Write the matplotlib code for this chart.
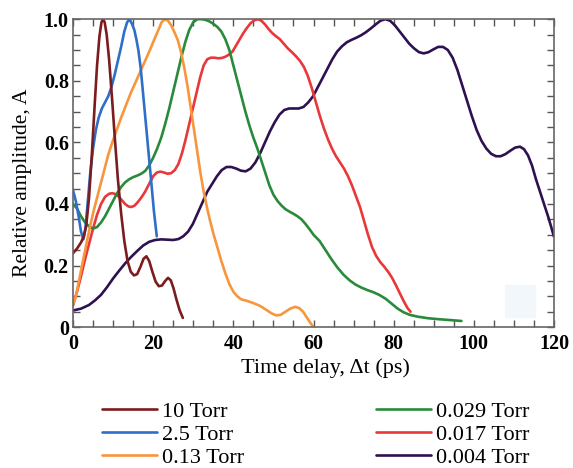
import matplotlib
matplotlib.use('Agg')
import matplotlib.pyplot as plt
from matplotlib.ticker import MultipleLocator, FuncFormatter
from matplotlib.patches import Rectangle

plt.rcParams['font.family'] = ['Liberation Serif', 'DejaVu Serif']

# 10 Torr
x_10 = [0, 1, 2, 2.7, 3.3, 4, 4.7, 5.4, 6, 6.6, 7.1, 7.5, 7.9, 8.4, 9, 9.7, 10.4, 11.2, 12,
        12.8, 13.6, 14.4, 15.2, 16, 16.8, 17.6, 18.3, 19, 19.8, 20.6, 21.4, 22.2, 23, 23.7,
        24.4, 25.1, 25.8, 26.6, 27.4]
y_10 = [0.24, 0.255, 0.275, 0.295, 0.33, 0.42, 0.56, 0.72, 0.85, 0.945, 0.99, 1.0, 0.99,
        0.95, 0.87, 0.75, 0.62, 0.48, 0.37, 0.28, 0.215, 0.18, 0.168, 0.172, 0.195, 0.222,
        0.23, 0.215, 0.18, 0.148, 0.133, 0.135, 0.15, 0.16, 0.152, 0.125, 0.09, 0.055, 0.03]

# 2.5 Torr
x_25 = [0, 0.7, 1.4, 2, 2.6, 3.1, 3.7, 4.3, 5, 5.7, 6.4, 7.2, 8, 8.8, 9.6, 10.4, 11.2, 12,
        12.8, 13.5, 14.1, 14.7, 15.3, 15.8, 16.3, 16.9, 17.4, 17.9, 18.4, 19, 19.6, 20.2, 20.9]
y_25 = [0.445, 0.41, 0.36, 0.31, 0.285, 0.32, 0.41, 0.5, 0.58, 0.64, 0.68, 0.71, 0.73, 0.75,
        0.78, 0.82, 0.865, 0.91, 0.96, 0.99, 1.0, 0.985, 0.965, 0.935, 0.9, 0.84, 0.77, 0.70,
        0.63, 0.545, 0.46, 0.375, 0.295]

# 0.13 Torr
x_013 = [0, 0.7, 1.4, 2.1, 2.8, 3.5, 4.3, 5.1, 5.9, 6.8, 7.8, 8.8, 9.8, 10.9, 12, 13.2, 14.4,
         15.6, 16.8, 18, 19.2, 20.3, 21.3, 22.1, 22.9, 23.7, 24.5, 25.4, 26.2, 27, 27.8, 28.6,
         29.4, 30.2, 31, 31.8, 32.6, 33.4, 34.2, 35.1, 36, 37, 38, 39, 40, 41, 42, 43.5, 45,
         46.5, 48, 49.5, 50.7, 51.8, 53, 54.2, 55.4, 56.4, 57.4, 58.4, 59.3, 60]
y_013 = [0.075, 0.1, 0.145, 0.19, 0.235, 0.28, 0.33, 0.375, 0.415, 0.46, 0.51, 0.56, 0.6,
         0.64, 0.68, 0.72, 0.76, 0.795, 0.83, 0.865, 0.9, 0.935, 0.965, 0.99, 1.0, 0.995, 0.98,
         0.955, 0.93, 0.89, 0.84, 0.78, 0.71, 0.64, 0.57, 0.5, 0.44, 0.39, 0.345, 0.3, 0.26,
         0.215, 0.175, 0.14, 0.115, 0.1, 0.09, 0.085, 0.078, 0.07, 0.058, 0.045, 0.038, 0.04,
         0.05, 0.06, 0.066, 0.062, 0.05, 0.03, 0.012, 0.0]

# 0.029 Torr
x_0029 = [0, 1, 2, 3, 4, 5, 6, 7, 8, 9, 10, 11, 12, 13, 14, 15, 16, 17, 18, 19, 20, 21, 22,
          23, 24, 25, 26, 27, 28, 29, 30, 31, 32, 33, 34, 35, 36, 37, 38, 39, 40, 41, 42, 43,
          44, 45, 46, 47, 48, 49, 50, 51, 52, 53, 54, 55, 56, 57, 58, 59, 60, 61.5, 63, 64.5,
          66, 67.5, 69, 70.5, 72, 73.5, 75, 76.5, 78, 79.5, 81, 82.5, 84, 86, 88.5, 91, 94, 96.9]
y_0029 = [0.40, 0.385, 0.36, 0.34, 0.327, 0.32, 0.325, 0.34, 0.36, 0.385, 0.41, 0.435, 0.455,
          0.47, 0.48, 0.487, 0.492, 0.498, 0.507, 0.525, 0.55, 0.58, 0.615, 0.66, 0.71, 0.765,
          0.82, 0.875, 0.925, 0.965, 0.99, 1.0, 1.0, 0.998, 0.993, 0.985, 0.975, 0.96, 0.935,
          0.9, 0.85, 0.8, 0.75, 0.7, 0.655, 0.615, 0.58, 0.54, 0.5, 0.46, 0.43, 0.41, 0.395,
          0.383, 0.375, 0.368, 0.36, 0.35, 0.335, 0.318, 0.3, 0.28, 0.25, 0.22, 0.193, 0.17,
          0.152, 0.138, 0.128, 0.12, 0.113, 0.104, 0.092, 0.076, 0.06, 0.048, 0.04, 0.034,
          0.029, 0.026, 0.023, 0.02]

# 0.017 Torr
x_0017 = [0, 1, 2, 3, 4, 5, 6, 7, 8, 9, 9.8, 10.6, 11.4, 12.2, 13, 13.8, 14.5, 15.3, 16.1, 17,
          18, 19, 20, 20.9, 21.8, 22.7, 23.6, 24.5, 25.4, 26.3, 27.2, 28.1, 29, 29.9, 30.8,
          31.7, 32.6, 33.5, 34.4, 35.3, 36.2, 37.1, 38, 38.9, 39.8, 40.7, 41.6, 42.5, 43.4,
          44.3, 45.2, 46.1, 47, 47.9, 48.8, 49.7, 50.6, 51.6, 52.6, 53.6, 54.6, 55.6, 56.6,
          57.6, 58.6, 59.6, 60.6, 61.6, 62.6, 63.6, 64.6, 65.6, 66.6, 67.6, 68.6, 69.6, 70.6,
          71.6, 72.6, 73.6, 74.6, 75.6, 76.6, 77.6, 78.6, 79.6, 80.6, 81.6, 82.6, 83.4, 84.2]
y_0017 = [0.07, 0.115, 0.165, 0.22, 0.27, 0.32, 0.365, 0.4, 0.423, 0.433, 0.435, 0.432, 0.424,
          0.412, 0.4, 0.392, 0.39, 0.394, 0.405, 0.42, 0.44, 0.465, 0.49, 0.502, 0.505, 0.502,
          0.498, 0.5, 0.51, 0.53, 0.565, 0.61, 0.66, 0.71, 0.76, 0.81, 0.85, 0.87, 0.875, 0.875,
          0.873, 0.874, 0.878, 0.885, 0.895, 0.915, 0.935, 0.955, 0.972, 0.987, 0.996, 1.0,
          0.995, 0.983, 0.968, 0.955, 0.945, 0.935, 0.92, 0.905, 0.893, 0.88, 0.865, 0.845,
          0.815, 0.775, 0.73, 0.685, 0.645, 0.61, 0.58, 0.555, 0.535, 0.515, 0.49, 0.46, 0.425,
          0.39, 0.345, 0.3, 0.26, 0.232, 0.212, 0.197, 0.18, 0.16, 0.135, 0.108, 0.082, 0.063,
          0.05]

# 0.004 Torr
x_0004 = [0, 2, 4, 5.5, 7, 8.5, 10, 11.5, 13, 14.5, 16, 17.5, 19, 20.5, 22, 23.5, 25, 26.3,
          27.5, 28.7, 29.9, 31.1, 32.3, 33.5, 34.7, 35.9, 37.1, 38.3, 39.5, 40.7, 41.9, 43.1,
          44.3, 45.5, 46.7, 47.9, 49.1, 50.3, 51.5, 52.7, 53.9, 55.1, 56.3, 57.5, 58.7, 59.9,
          61.1, 62.3, 63.5, 64.7, 65.9, 67.1, 68.3, 69.5, 70.7, 71.9, 73.1, 74.3, 75.5, 76.7,
          77.9, 79.1, 80.3, 81.5, 82.7, 83.9, 85.1, 86.3, 87.5, 88.7, 89.9, 91.1, 92.3, 93.5,
          94.7, 95.9, 97.1, 98.3, 99.5, 100.7, 101.9, 103.1, 104.3, 105.5, 106.7, 107.9, 109.1,
          110.3, 111.5, 112.5, 113.5, 114.5, 115.5, 116.5, 117.5, 118.5, 119.3, 120]
y_0004 = [0.054, 0.06, 0.072, 0.087, 0.105, 0.13, 0.158, 0.183, 0.207, 0.228, 0.247, 0.265,
          0.277, 0.283, 0.285, 0.284, 0.283, 0.286, 0.295, 0.31, 0.335, 0.37, 0.405, 0.44,
          0.465, 0.49, 0.51, 0.52, 0.52, 0.515, 0.508, 0.506, 0.515, 0.535, 0.565, 0.6, 0.635,
          0.665, 0.69, 0.705, 0.71, 0.71, 0.71, 0.715, 0.73, 0.75, 0.78, 0.81, 0.84, 0.87,
          0.895, 0.912, 0.925, 0.933, 0.94, 0.948, 0.958, 0.97, 0.983, 0.995, 1.0, 0.995, 0.98,
          0.96, 0.94, 0.92, 0.905, 0.893, 0.889, 0.893, 0.902, 0.91, 0.91, 0.9, 0.875, 0.835,
          0.785, 0.735, 0.685, 0.64, 0.605, 0.58, 0.563, 0.555, 0.555, 0.562, 0.573, 0.583,
          0.586, 0.578, 0.558, 0.525, 0.48, 0.44, 0.4, 0.36, 0.325, 0.293]

# legend order (column by column)
labels = ['10 Torr', '2.5 Torr', '0.13 Torr', '0.029 Torr', '0.017 Torr', '0.004 Torr']
colors = ['#7b1c1f', '#2f6fc8', '#f7963c', '#2a8a3c', '#e8383a', '#2d1150']
xs = [x_10, x_25, x_013, x_0029, x_0017, x_0004]
ys = [y_10, y_25, y_013, y_0029, y_0017, y_0004]

fig = plt.figure(figsize=(5.73, 4.68), dpi=100)
ax = fig.add_axes([0.1274, 0.301, 0.8395, 0.658])

draw_order = [5, 4, 3, 2, 1, 0]
lines = {}
for i in draw_order:
    lines[i], = ax.plot(xs[i], ys[i], color=colors[i], lw=1.9, label=labels[i],
                        solid_joinstyle='round', solid_capstyle='round')

ax.set_xlim(0, 120)
ax.set_ylim(0, 1.0)
ax.xaxis.set_major_locator(MultipleLocator(20))
ax.xaxis.set_minor_locator(MultipleLocator(5))
ax.yaxis.set_major_locator(MultipleLocator(0.2))
ax.yaxis.set_minor_locator(MultipleLocator(0.05))
ax.yaxis.set_major_formatter(FuncFormatter(lambda v, p: '0' if abs(v) < 1e-9 else '%.1f' % v))
ax.xaxis.set_major_formatter(FuncFormatter(lambda v, p: '%d' % v))
ax.tick_params(which='both', direction='in', top=True, right=True, length=5, width=1,
               color='#555555', labelsize=14.5)
ax.tick_params(axis='x', pad=5)
ax.tick_params(axis='y', pad=3)
for t in ax.get_xticklabels() + ax.get_yticklabels():
    t.set_fontweight('bold')
for s in ax.spines.values():
    s.set_color('#666666')
    s.set_linewidth(1.2)

ax.set_xlabel('Time delay, Δt (ps)', fontsize=16)
ax.xaxis.set_label_coords(0.524, -0.10)
ax.set_ylabel('Relative amplitude, A', fontsize=15.5)
ax.yaxis.set_label_coords(-0.085, 0.47)

# faint pale patch in the lower right
fig.patches.append(Rectangle((505 / 573, 1 - 317 / 468), 30 / 573, 32 / 468,
                             transform=fig.transFigure, color='#f2f7fc', zorder=5))

fig.legend([lines[i] for i in range(6)], labels, ncol=2, loc='center',
           bbox_to_anchor=(0.551, 0.071), frameon=False, fontsize=16, handlelength=2.48,
           handletextpad=0.22, columnspacing=5.95, labelspacing=0.1)

fig.savefig('out.png', dpi=100)
